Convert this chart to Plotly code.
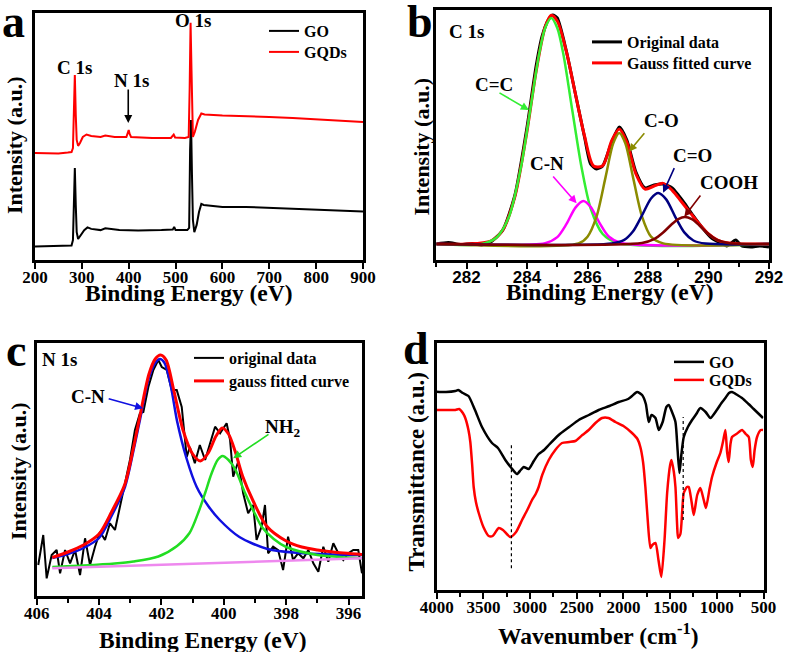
import plotly.graph_objects as go

SERIF = "Liberation Serif"
SANS = "Liberation Sans"

# ---------------- Panel a : XPS survey ----------------
A_GQD_X = [200, 250, 270, 278, 281, 283, 285, 287, 289, 292, 296, 302, 310, 320, 340, 350, 370, 395, 398, 400, 402, 405,
           450, 490, 496, 499, 520, 528, 530, 532, 534, 537, 541, 548, 555, 562, 600, 650, 700, 750, 800, 850, 900]
A_GQD_Y = [43.3, 43.1, 43.5, 43.7, 45.3, 60.7, 74.9, 58.7, 48.6, 46.2, 47.4, 49.8, 50.8, 50.2, 49.8, 50.4, 49.8, 49.8, 51.4, 52.6, 51.0, 49.8,
           49.4, 49.4, 50.8, 49.6, 49.4, 49.8, 68.8, 96.0, 76.9, 49.8, 51.8, 56.7, 59.3, 58.9, 58.5, 58.3, 57.9, 57.5, 56.9, 56.3, 55.9]
A_GO_X = [200, 250, 278, 281, 283, 285, 287, 289, 292, 298, 305, 312, 320, 340, 350, 380, 420, 470, 494, 497, 500, 525, 529,
          531, 533, 535, 537, 540, 545, 550, 555, 560, 580, 600, 650, 700, 750, 800, 850, 900]
A_GO_Y = [5.5, 5.7, 5.9, 8.1, 24.3, 37.2, 22.3, 11.3, 8.5, 10.1, 12.1, 13.2, 12.6, 12.1, 12.8, 12.1, 11.9, 12.1, 12.3, 13.4, 12.1, 12.1, 13.0,
          44.5, 56.7, 34.4, 16.2, 11.3, 14.2, 19.4, 22.7, 22.3, 21.9, 21.5, 21.5, 21.1, 20.9, 20.4, 20.2, 19.6]

# ---------------- Panel b : C 1s ----------------
B_ORIG_X = [281.0, 281.4, 281.8, 282.2, 282.5, 282.8, 283.2, 283.6, 284.0, 284.3, 284.5, 284.7, 284.85, 285.0, 285.3, 285.6, 285.9,
            286.1, 286.3, 286.5, 286.8, 287.05, 287.3, 287.6, 287.9, 288.2, 288.5, 288.8, 289.0, 289.2, 289.5, 289.8, 290.1, 290.4,
            290.6, 290.9, 291.1, 291.4, 291.7, 292.0]
B_ORIG_Y = [0, 1.5, -0.5, 0.5, -1, 2, 14, 49, 117, 178, 208, 224, 229, 226, 193, 150, 107, 80, 75, 78, 102, 117, 104, 72, 56, 59, 60,
            56, 49, 41, 28, 16, 6, 1, -2, 4, -2, -3, -2, -3]
B_FIT_X = [281, 282.0, 282.8, 283.2, 283.6, 284.0, 284.3, 284.6, 284.8, 285.0, 285.3, 285.6, 285.9, 286.2, 286.5, 286.8, 287.05, 287.3,
           287.6, 287.9, 288.2, 288.5, 288.8, 289.1, 289.4, 289.7, 290.0, 290.3, 290.6, 291.0, 292]
B_FIT_Y = [0, 0, 3.0, 14.2, 47.6, 113, 172.6, 217, 228.7, 223, 192.4, 150, 108.2, 78, 78.3, 103.4, 115.1, 101.8, 70, 54.8, 58, 60.6,
           53.7, 42.5, 31, 19.8, 10.1, 3.9, 1.2, 0.1, 0]
B_CC_X = [281, 282.5, 283.0, 283.4, 283.8, 284.1, 284.4, 284.6, 284.8, 285.0, 285.2, 285.5, 285.8, 286.1, 286.5, 287.0, 292]
B_CC_Y = [0, 0, 6.8, 27, 77, 133, 190, 216, 226, 216, 190, 133, 77, 36, 10, 1, 0]
B_CN_X = [281, 284.6, 285.0, 285.3, 285.6, 285.86, 286.1, 286.4, 286.7, 287.1, 292]
B_CN_Y = [0, 0.9, 6.9, 19.8, 36.4, 43, 37.3, 20.9, 7.5, 1, 0]
B_CO_X = [281, 285.7, 286.0, 286.3, 286.6, 286.85, 287.05, 287.25, 287.5, 287.8, 288.1, 288.5, 292]
B_CO_Y = [0, 0.5, 7.3, 27.6, 67.4, 100.6, 111, 100.6, 67.4, 27.6, 7.3, 0.6, 0]
B_CDO_X = [281, 286.8, 287.2, 287.5, 287.8, 288.1, 288.34, 288.6, 288.9, 289.2, 289.5, 289.9, 292]
B_CDO_Y = [0, 0.5, 3.8, 12.4, 28.5, 45.5, 51, 44.6, 27.2, 11.6, 3.5, 0.4, 0]
B_COOH_X = [281, 287.8, 288.2, 288.5, 288.8, 289.0, 289.22, 289.45, 289.7, 290.0, 290.3, 290.7, 292]
B_COOH_Y = [0, 1, 4.8, 11.5, 20.2, 24.9, 27, 24.8, 18.5, 9.9, 3.9, 0.7, 0]

# ---------------- Panel c : N 1s ----------------
C_ORIG_X = [405.95, 405.79, 405.68, 405.52, 405.36, 405.25, 405.09, 404.93, 404.77, 404.61, 404.45, 404.29, 404.13, 403.97, 403.81,
            403.65, 403.49, 403.33, 403.17, 403.01, 402.85, 402.69, 402.58, 402.42, 402.26, 402.10, 401.99, 401.83, 401.67, 401.51,
            401.35, 401.19, 401.09, 400.93, 400.77, 400.60, 400.44, 400.28, 400.12, 399.91, 399.80, 399.70, 399.54, 399.38, 399.22,
            399.06, 398.95, 398.79, 398.68, 398.58, 398.42, 398.26, 398.10, 397.94, 397.78, 397.62, 397.45, 397.29, 397.13, 396.97,
            396.81, 396.65, 396.49, 396.33, 396.17, 396.01, 395.85, 395.69, 395.57]
C_ORIG_Y = [31, 61, 17.7, 41, 46, 22.7, 46, 32.7, 46, 21, 57.7, 31, 49.3, 64.3, 56, 72.7, 66, 89.3, 109.3, 136, 166, 182.7, 184, 209,
            226, 236, 229, 226, 206, 206, 189, 139, 149, 132.7, 151, 136, 152.7, 169.3, 162.7, 172.7, 156, 119.3, 134.3, 102.7, 82.7,
            91, 56, 69.3, 91, 42.7, 49.3, 46, 26, 59.3, 36, 42.7, 37.7, 46, 32.7, 24.3, 49.3, 34.3, 52.7, 42.7, 36, 42.7, 46, 46, 22.7]
C_FIT_X = [405.5, 405.0, 404.5, 404.0, 403.6, 403.17, 402.9, 402.69, 402.4, 402.2, 402.03, 401.85, 401.6, 401.3, 401.0, 400.75, 400.5,
           400.25, 400.05, 399.85, 399.64, 399.4, 399.06, 398.63, 398.0, 397.5, 397.0, 396.5, 395.57]
C_FIT_Y = [38.5, 44, 51, 62, 84, 112, 148, 180, 222, 237, 241, 236, 205, 165, 142, 135, 143, 160, 168, 162, 145, 120, 95, 70, 55, 49,
           46, 44, 41.5]
C_CN_X = [405.5, 405.0, 404.5, 404.0, 403.6, 403.17, 402.9, 402.69, 402.4, 402.2, 402.05, 401.9, 401.7, 401.5, 401.2, 400.87, 400.5,
          400.13, 399.5, 398.6, 397.6, 396.5, 395.57]
C_CN_Y = [38, 42, 48, 58, 80, 109, 145, 176, 218, 233, 237, 233, 210, 175, 138, 109, 90, 76, 59, 47, 43, 41.5, 41]
C_NH2_X = [405.5, 404.5, 403.5, 402.9, 402.1, 401.5, 401.1, 400.8, 400.6, 400.4, 400.2, 400.04, 399.85, 399.64, 399.32, 399.0, 398.78,
           398.4, 398.0, 397.0, 396.0, 395.57]
C_NH2_Y = [29, 30.5, 32.5, 34.5, 39.5, 50, 63, 85, 103, 122, 136, 140, 136, 127, 103, 82, 69, 57, 49, 41, 38.5, 37.7]
C_BASE_X = [405.5, 395.57]
C_BASE_Y = [27.7, 37.7]

# ---------------- Panel d : FTIR ----------------
D_GO_X = [4000, 3900, 3800, 3770, 3720, 3660, 3590, 3515, 3408, 3344, 3265, 3200, 3140, 3100, 3068, 3015, 2960, 2908, 2850, 2800, 2693,
          2580, 2479, 2370, 2265, 2150, 2050, 1950, 1908, 1854, 1800, 1760, 1729, 1700, 1657, 1622, 1580, 1540, 1515, 1480, 1443, 1420,
          1400, 1380, 1354, 1310, 1265, 1220, 1176, 1120, 1069, 1000, 950, 908, 870, 837, 780, 730, 660, 605, 505]
D_GO_Y = [198.3, 198, 199, 200, 197, 194, 180, 163, 147, 142, 130, 122, 116, 120, 123, 121, 129, 136, 140, 145, 155, 163, 170, 175, 180,
          184, 188, 191, 194, 198, 195, 186, 168, 175, 172, 160, 168, 183, 185, 178, 168, 140, 117, 135, 153, 163, 170, 176, 182, 178,
          172, 180, 187, 192, 197, 198, 195, 192, 186, 181, 172]
D_GQD_X = [4000, 3900, 3800, 3760, 3720, 3694, 3660, 3640, 3620, 3604, 3580, 3550, 3500, 3443, 3400, 3336, 3290, 3212, 3150, 3086, 3030,
           2979, 2940, 2908, 2870, 2800, 2730, 2658, 2580, 2515, 2440, 2372, 2300, 2229, 2160, 2086, 2000, 1908, 1850, 1819, 1790, 1765,
           1740, 1711, 1690, 1657, 1625, 1594, 1560, 1532, 1500, 1486, 1460, 1443, 1425, 1415, 1390, 1370, 1354, 1320, 1301, 1270, 1247,
           1210, 1176, 1140, 1116, 1080, 1051, 1000, 962, 930, 908, 890, 873, 855, 837, 790, 730, 690, 658, 635, 615, 595, 569, 530, 505]
D_GQD_Y = [180, 180, 180, 181, 177, 172, 160, 148, 125, 103, 88, 77, 63, 54, 54, 62, 60, 53, 58, 70, 80, 90, 96, 103, 115, 130, 140, 147,
           148, 149, 155, 160, 167, 172, 172, 168, 164, 157, 151, 143, 128, 103, 70, 42, 45, 47, 30, 13, 50, 97, 125, 130, 118, 103, 65,
           52, 56, 80, 97, 103, 103, 88, 75, 95, 102, 90, 82, 100, 113, 128, 137, 150, 160, 138, 128, 145, 153, 156, 160, 156, 153, 130,
           123, 140, 153, 160, 160]
D_DOT1_X = [3200, 3200]
D_DOT1_Y = [21.7, 146.7]
D_DOT2_X = [1360, 1360]
D_DOT2_Y = [70, 173]

fig = go.Figure()


def add(x, y, color, width, xa, ya, name=None, legend=None, shape="linear", smoothing=1.0, dash="solid"):
    fig.add_trace(go.Scatter(
        x=x, y=y, mode="lines",
        line=dict(color=color, width=width, shape=shape, smoothing=smoothing, dash=dash),
        xaxis=xa, yaxis=ya, name=name if name else "", showlegend=name is not None,
        legend=legend if legend else "legend", hoverinfo="skip"))


# panel a
add(A_GO_X, A_GO_Y, "#000000", 2, "x", "y", "GO", "legend")
add(A_GQD_X, A_GQD_Y, "#FF0000", 2, "x", "y", "GQDs", "legend2")

# panel b
add(B_ORIG_X, B_ORIG_Y, "#000000", 3, "x2", "y2", "Original data", "legend3", "spline", 0.6)
add(B_FIT_X, B_FIT_Y, "#FF0000", 3, "x2", "y2", "Gauss fitted curve", "legend4", "spline", 0.8)
add(B_CC_X, B_CC_Y, "#33EE33", 2.5, "x2", "y2", shape="spline", smoothing=0.8)
add(B_CN_X, B_CN_Y, "#FF00FF", 2.5, "x2", "y2", shape="spline", smoothing=0.8)
add(B_CO_X, B_CO_Y, "#8B8B00", 2.5, "x2", "y2", shape="spline", smoothing=0.8)
add(B_CDO_X, B_CDO_Y, "#000080", 2.5, "x2", "y2", shape="spline", smoothing=0.8)
add(B_COOH_X, B_COOH_Y, "#800000", 2.5, "x2", "y2", shape="spline", smoothing=0.8)

# panel c
add(C_ORIG_X, C_ORIG_Y, "#000000", 2, "x3", "y3", "original data", "legend5")
add(C_CN_X, C_CN_Y, "#1010E0", 2.5, "x3", "y3", shape="spline", smoothing=0.8)
add(C_NH2_X, C_NH2_Y, "#22DD22", 2.5, "x3", "y3", shape="spline", smoothing=0.8)
add(C_BASE_X, C_BASE_Y, "#EE88EE", 2.5, "x3", "y3")
add(C_FIT_X, C_FIT_Y, "#FF0000", 3, "x3", "y3", "gauss fitted curve", "legend6", "spline", 0.8)

# panel d
add(D_GO_X, D_GO_Y, "#000000", 2.5, "x4", "y4", "GO", "legend7", "spline", 0.6)
add(D_GQD_X, D_GQD_Y, "#FF0000", 2.5, "x4", "y4", "GQDs", "legend8", "spline", 0.6)
add(D_DOT1_X, D_DOT1_Y, "#000000", 1.2, "x4", "y4", dash="dot")
add(D_DOT2_X, D_DOT2_Y, "#000000", 1.2, "x4", "y4", dash="dot")

W, H = 785, 652


def px(x):
    return x / W


def py(y):
    return 1 - y / H


tick_serif = dict(family=SERIF, size=17, color="black", weight="bold")
tick_sans = dict(family=SANS, size=17, color="black", weight="bold")


def xax(domain, rng, dtick, tick0, tfont, minor=None):
    d = dict(domain=domain, range=rng, dtick=dtick, tick0=tick0, showline=True, mirror=True, linewidth=2.5,
             linecolor="black", ticks="outside", ticklen=6, tickwidth=2, tickcolor="black", showgrid=False,
             zeroline=False, tickfont=tfont, ticklabelstandoff=-6)
    if minor:
        d["minor"] = dict(dtick=minor, ticks="outside", ticklen=4, tickwidth=2, tickcolor="black", showgrid=False)
    return d


def yax(domain, rng, anchor):
    return dict(domain=domain, range=rng, showline=True, mirror=True, linewidth=2.5, linecolor="black",
                ticks="", showticklabels=False, showgrid=False, zeroline=False, anchor=anchor)


fig.update_layout(
    width=W, height=H, margin=dict(l=0, r=0, t=0, b=0, autoexpand=False),
    paper_bgcolor="white", plot_bgcolor="white",
    xaxis=dict(xax([px(35), px(363)], [200, 900], 100, 200, tick_serif), anchor="y"),
    yaxis=yax([py(260), py(13)], [0, 100], "x"),
    xaxis2=dict(xax([px(436.3), px(769)], [281, 292], 2, 282, tick_sans, 1), anchor="y2"),
    yaxis2=yax([py(260), py(10)], [-16, 234], "x2"),
    xaxis3=dict(xax([px(36.7), px(362)], [406, 395.57], 2, 406, tick_serif, 1), anchor="y3"),
    yaxis3=yax([py(596), py(343)], [0, 253], "x3"),
    xaxis4=dict(xax([px(436.7), px(763.5)], [4000, 500], 500, 500, tick_serif, 250), anchor="y4"),
    yaxis4=yax([py(590), py(343)], [0, 247], "x4"),
)

leg_font = dict(family=SERIF, size=16, color="black", weight="bold")
LEG_POS = [("legend", 264, 14), ("legend2", 264, 35),
           ("legend3", 587, 25), ("legend4", 587, 46),
           ("legend5", 189, 341), ("legend6", 189, 364),
           ("legend7", 669, 345), ("legend8", 669, 363)]
for key, lx, ly in LEG_POS:
    fig.update_layout({key: dict(x=px(lx), y=py(ly), xanchor="left", yanchor="top", bgcolor="rgba(0,0,0,0)",
                                 font=leg_font, borderwidth=0, tracegroupgap=0)})

ann = []


def text(t, x, y, size, xref="paper", yref="paper", angle=0, xanchor="center"):
    ann.append(dict(text=t, x=x, y=y, xref=xref, yref=yref, showarrow=False, textangle=angle,
                    xanchor=xanchor, yanchor="middle",
                    font=dict(family=SERIF, size=size, color="black", weight="bold")))


def arrow(x, y, ax, ay, color, xr, yr):
    ann.append(dict(text="", x=x, y=y, ax=ax, ay=ay, xref=xr, yref=yr, axref=xr, ayref=yr, showarrow=True,
                    arrowhead=2, arrowsize=1, arrowwidth=1.6, arrowcolor=color, standoff=0, startstandoff=0))


# panel letters
text("a", px(13.5), py(21), 46)
text("b", px(419.5), py(21), 46)
text("c", px(16), py(350), 46)
text("d", px(415.5), py(348), 46)

# axis titles
text("Binding Energy (eV)", px(189), py(293), 23.5)
text("Intensity (a.u.)", px(15), py(145), 22, angle=-90)
text("Binding Energy (eV)", px(610), py(292), 23.5)
text("Intensity (a.u.)", px(420.5), py(147), 22, angle=-90)
text("Binding Energy (eV)", px(203), py(640), 23.5)
text("Intensity (a.u.)", px(18.5), py(471.5), 22, angle=-90)
text("Wavenumber (cm<sup>-1</sup>)", px(598.5), py(634), 23.5)
text("Transmittance (a.u.)", px(416), py(471.5), 23, angle=-90)

# panel a labels
text("C 1s", 284.6, 77.9, 19, "x", "y")
text("N 1s", 405.6, 72.5, 19, "x", "y")
text("O 1s", 537, 96.8, 19, "x", "y")
arrow(399, 55.5, 399, 69.6, "#000000", "x", "y")

# panel b labels
text("C 1s", 282.0, 212.5, 19, "x2", "y2")
text("C=C", 282.9, 160, 19, "x2", "y2")
arrow(284.06, 134, 283.04, 152, "#33EE33", "x2", "y2")
text("C-N", 284.65, 80.5, 19, "x2", "y2")
arrow(285.64, 40.7, 284.82, 69, "#FF00FF", "x2", "y2")
text("C-O", 288.43, 123.3, 19, "x2", "y2")
arrow(287.37, 92.3, 287.92, 112.3, "#8B8B00", "x2", "y2")
text("C=O", 289.47, 88.3, 19, "x2", "y2")
arrow(288.5, 51.3, 288.89, 77.3, "#000080", "x2", "y2")
text("COOH", 290.68, 61.5, 19, "x2", "y2")
arrow(289.2, 27.3, 289.77, 50, "#800000", "x2", "y2")

# panel c labels
text("N 1s", 405.27, 237, 19, "x3", "y3")
text("C-N", 404.34, 199.5, 19, "x3", "y3")
arrow(402.59, 187.7, 403.74, 197.7, "#1010E0", "x3", "y3")
text("NH<sub>2</sub>", 398.11, 168, 19, "x3", "y3")
arrow(399.7, 137.7, 398.52, 162.7, "#22DD22", "x3", "y3")

fig.update_layout(annotations=ann)
fig.write_html("out.html", config={"displayModeBar": False},
               post_script="document.body.style.margin='0px';document.body.style.padding='0px';")
